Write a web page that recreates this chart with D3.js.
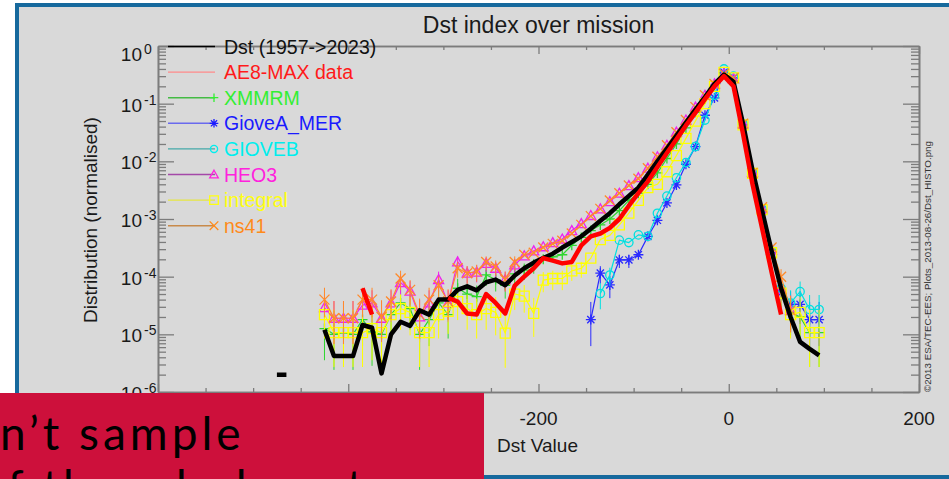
<!DOCTYPE html>
<html>
<head>
<meta charset="utf-8">
<script src="https://cdn.jsdelivr.net/npm/d3@7"></script>
<style>
  body { margin: 0; background: #fff; }
  svg { display: block; }
</style>
</head>
<body>
<svg id="chart" width="949" height="479"></svg>
<script>
// bin centres of the Dst histogram (nT)
var dstBins = [
  -475, -465, -455, -445, -435, -425, -415, -405, -395, -385,
  -375, -365, -355, -345, -335, -325, -315, -305, -295, -285,
  -275, -265, -255, -245, -235, -225, -215, -205, -195, -185,
  -175, -165, -155, -145, -135, -125, -115, -105, -95, -85,
  -75, -65, -55, -45, -35, -25, -15, -5, 5, 15,
  25, 35, 45, 55, 65, 75, 85, 95,
];

var dstAll = [
  2.0e-6, 2.0e-6, null, null, null, 1.2e-5, 4.2e-6, 4.2e-6, 4.2e-6, 1.45e-5,
  1.3e-5, 2.1e-6, 1.0e-5, 1.65e-5, 1.4e-5, 2.6e-5, 2.2e-5, 4.0e-5, 4.0e-5, 5.9e-5,
  6.8e-5, 5.8e-5, 8.0e-5, 8.9e-5, 7.1e-5, 1.05e-4, 1.4e-4, 1.75e-4, 2.1e-4, 2.5e-4,
  3.2e-4, 4.0e-4, 5.0e-4, 6.8e-4, 9.3e-4, 1.26e-3, 1.8e-3, 2.5e-3, 3.5e-3, 5.9e-3,
  1.0e-2, 1.66e-2, 2.8e-2, 4.7e-2, 7.9e-2, 0.13, 0.22, 0.32, 0.24, 0.045,
  7.0e-3, 1.4e-3, 2.8e-4, 6.3e-5, 2.0e-5, 7.4e-6, 5.6e-6, 4.3e-6,
];
var ae8Max = [
  null, null, null, null, null, null, null, null, null, 6.3e-5,
  2.2e-5, null, null, null, null, null, null, null, 4.3e-5, 3.7e-5,
  2.3e-5, 2.2e-5, 5.0e-5, 3.5e-5, 2.3e-5, 7.0e-5, 1.0e-4, 1.4e-4, 2.1e-4, 1.9e-4,
  1.7e-4, 1.8e-4, 3.5e-4, 5.0e-4, 5.6e-4, 7.0e-4, 1.0e-3, 1.7e-3, 2.8e-3, 4.5e-3,
  8.0e-3, 1.4e-2, 2.4e-2, 4.2e-2, 7.0e-2, 0.12, 0.2, 0.3, 0.2, 0.03,
  4.0e-3, 7.0e-4, 1.2e-4, 2.2e-5, null, null, null, null,
];
var xmmrm = [
  null, null, null, null, null, 1.26e-5, 1.0e-5, 1.07e-5, 1.0e-5, 1.8e-5,
  1.1e-5, 1.0e-5, 2.2e-5, 3.5e-5, 2.8e-5, 1.0e-5, 1.8e-5, 3.5e-5, 2.2e-5, 6.3e-5,
  5.0e-5, 4.5e-5, 1.07e-4, 8.9e-5, 7.1e-5, 1.12e-4, 1.3e-4, 1.6e-4, 2.0e-4, 2.2e-4,
  2.4e-4, 3.5e-4, 4.8e-4, 6.3e-4, 7.9e-4, 1.0e-3, 1.4e-3, 2.1e-3, 2.8e-3, 4.0e-3,
  6.3e-3, 1.12e-2, 2.0e-2, 3.8e-2, 7.1e-2, 0.12, 0.21, 0.33, 0.28, 0.043,
  6.3e-3, 1.45e-3, 2.6e-4, 5.2e-5, 2.4e-5, 2.0e-5, 1.07e-5, 1.07e-5,
];
var gioveAMer = [
  null, null, null, null, null, null, null, null, null, null,
  null, null, null, null, null, null, null, null, null, null,
  null, null, null, null, null, null, null, null, null, null,
  null, null, null, 1.8e-5, 1.15e-4, 7.2e-5, 1.95e-4, 1.95e-4, 2.4e-4, 5.0e-4,
  9.5e-4, 1.9e-3, 3.9e-3, 8.9e-3, 1.8e-2, 6.3e-2, 0.126, 0.35, 0.28, 0.043,
  6.2e-3, 1.45e-3, 2.6e-4, 5.2e-5, 3.3e-5, 3.3e-5, 1.8e-5, 1.8e-5,
];
var gioveB = [
  null, null, null, null, null, null, null, null, null, null,
  null, null, null, null, null, null, null, null, null, null,
  null, null, null, null, null, null, null, null, null, null,
  null, null, null, null, 5.1e-5, 1.07e-4, 4.3e-4, 3.9e-4, 5.3e-4, 5.0e-4,
  1.26e-3, 2.5e-3, 5.2e-3, 9.5e-3, 1.8e-2, 5.2e-2, 0.14, 0.40, 0.30, 0.045,
  6.3e-3, 1.5e-3, 2.8e-4, 6.3e-5, 3.5e-5, 5.5e-5, 2.7e-5, 2.7e-5,
];
var heo3 = [
  null, null, null, null, null, 2.9e-5, 1.9e-5, 1.9e-5, 1.9e-5, 3.2e-5,
  3.5e-5, 1.9e-5, 3.5e-5, 7.9e-5, 5.6e-5, 2.0e-5, 3.5e-5, 8.9e-5, 3.5e-5, 1.8e-4,
  1.15e-4, 1.2e-4, 1.7e-4, 1.4e-4, 8.9e-5, 1.6e-4, 2.3e-4, 2.8e-4, 3.3e-4, 3.9e-4,
  4.5e-4, 6.3e-4, 8.3e-4, 1.15e-3, 1.5e-3, 2.0e-3, 2.8e-3, 3.8e-3, 5.2e-3, 7.6e-3,
  1.2e-2, 1.9e-2, 3.2e-2, 5.2e-2, 8.7e-2, 0.14, 0.22, 0.33, 0.27, 0.045,
  6.5e-3, 1.5e-3, 2.9e-4, 6.0e-5, 2.6e-5, null, null, null,
];
var integral = [
  null, null, null, null, null, 2.2e-5, 1.07e-5, 1.07e-5, 1.07e-5, 1.07e-5,
  1.26e-5, 1.07e-5, 2.2e-5, 2.8e-5, 2.4e-5, 1.07e-5, 1.07e-5, 2.2e-5, 2.5e-5, 3.7e-5,
  2.8e-5, 2.2e-5, 2.8e-5, 2.4e-5, 1.05e-5, 5.0e-5, 4.6e-5, 2.3e-5, 8.7e-5, 9.3e-5,
  9.3e-5, 1.26e-4, 1.4e-4, 2.1e-4, 4.4e-4, 5.2e-4, 7.9e-4, 1.26e-3, 2.1e-3, 3.5e-3,
  4.0e-3, 6.6e-3, 1.26e-2, 2.5e-2, 5.0e-2, 0.1, 0.2, 0.35, 0.28, 0.043,
  6.2e-3, 1.45e-3, 2.6e-4, 5.2e-5, 2.2e-5, 2.4e-5, 1.07e-5, 1.07e-5,
];
var ns41 = [
  null, null, null, null, null, 4.0e-5, 1.9e-5, 1.9e-5, 1.9e-5, 4.0e-5,
  4.0e-5, 2.0e-5, 3.7e-5, 9.3e-5, 5.9e-5, 2.2e-5, 4.0e-5, 7.1e-5, 3.7e-5, 1.4e-4,
  1.15e-4, 1.23e-4, 1.8e-4, 1.5e-4, 8.9e-5, 1.8e-4, 2.4e-4, 2.6e-4, 3.2e-4, 3.7e-4,
  4.2e-4, 5.6e-4, 7.9e-4, 1.12e-3, 1.5e-3, 2.1e-3, 2.8e-3, 3.8e-3, 5.0e-3, 7.6e-3,
  1.2e-2, 1.9e-2, 3.2e-2, 5.2e-2, 8.7e-2, 0.14, 0.22, 0.33, 0.28, 0.045,
  6.3e-3, 1.6e-3, 3.2e-4, 1.0e-4, 2.6e-5, null, null, null,
];

var seriesNames = ["Dst (1957->2023)", "AE8-MAX data", "XMMRM", "GioveA_MER", "GIOVEB", "HEO3", "integral", "ns41"];
var seriesValues = [dstAll, ae8Max, xmmrm, gioveAMer, gioveB, heo3, integral, ns41];

var xTickValues = [-600, -400, -200, 0, 200];
var xTickLabels = ["-600", "-400", "-200", "0", "200"];
var xMinorValues = [-550, -500, -450, -350, -300, -250, -150, -100, -50, 50, 100, 150];
var yTickValues = [1e-6, 1e-5, 1e-4, 1e-3, 1e-2, 1e-1, 1];
var yTickExponents = ["-6", "-5", "-4", "-3", "-2", "-1", "0"];

// styles (kept apart from the data)
var lineColors = ["#000000", "#ff0000", "#2ed62e", "#2a2aff", "#00e0e0", "#ee22ee", "#ffff00", "#ff8a2a"];
var textColors = ["#111111", "#ff1a1a", "#33ee33", "#1a1aff", "#00eeee", "#ff22dd", "#ffff10", "#ff8a1a"];
var legendLineColors = ["#000000", "#ff8a8a", "#44bb44", "#6a6aee", "#44a8a8", "#a448a8", "#e6e640", "#c88a4a"];
var symbols = [null, null, "plus", "star", "circle", "triangle", "square", "cross"];
var drawOrder = [2, 3, 4, 5, 6, 7, 0, 1];

var svg = d3.select("#chart");
var font = "'Liberation Sans', Arial, Helvetica, sans-serif";
var axisColor = "#7c7c7c";

svg.append("rect").attr("width", 949).attr("height", 479).attr("fill", "#ffffff");
svg.append("rect").attr("x", 15).attr("y", 3).attr("width", 934).attr("height", 476).attr("fill", "#16699d");
svg.append("rect").attr("x", 19).attr("y", 7).attr("width", 930).attr("height", 468).attr("fill", "#d9d9d9");

var x = d3.scaleLinear().domain([-600, 200]).range([158, 919]);
var y = d3.scaleLog().domain([1e-6, 1]).range([392, 46]);

var yMinor = [];
yTickValues.slice(0, -1).forEach(function (d) {
  for (var k = 2; k < 10; k++) yMinor.push(d * k);
});

function styleAxis(g) {
  g.selectAll("path.domain").attr("stroke", axisColor).attr("stroke-width", 1.6);
  g.selectAll(".tick line").attr("stroke", axisColor).attr("stroke-width", 1.3);
  g.selectAll(".tick text").remove();
}

// x axes (bottom + top), ticks inward
[[d3.axisBottom, 392], [d3.axisTop, 46]].forEach(function (a) {
  svg.append("g").attr("transform", "translate(0," + a[1] + ")")
    .call(a[0](x).tickValues(xMinorValues).tickSize(-4).tickSizeOuter(0).tickFormat(""))
    .call(styleAxis);
  svg.append("g").attr("transform", "translate(0," + a[1] + ")")
    .call(a[0](x).tickValues(xTickValues).tickSize(-8).tickSizeOuter(0).tickFormat(""))
    .call(styleAxis);
});

// y axes (left + right), ticks inward
[[d3.axisLeft, 158], [d3.axisRight, 919]].forEach(function (a) {
  svg.append("g").attr("transform", "translate(" + a[1] + ",0)")
    .call(a[0](y).tickValues(yMinor).tickSize(-8).tickSizeOuter(0).tickFormat(""))
    .call(styleAxis);
  svg.append("g").attr("transform", "translate(" + a[1] + ",0)")
    .call(a[0](y).tickValues(yTickValues).tickSize(-16).tickSizeOuter(0).tickFormat(""))
    .call(styleAxis);
});

// tick labels
svg.append("g").selectAll("text").data(xTickValues).enter().append("text")
  .attr("x", function (d) { return x(d); })
  .attr("y", 425)
  .attr("text-anchor", "middle")
  .style("font-family", font).style("font-size", "19px").attr("fill", "#1a1a1a")
  .text(function (d, i) { return xTickLabels[i]; });

var yl = svg.append("g").selectAll("g").data(yTickValues).enter().append("g");
yl.append("text")
  .attr("x", 142).attr("y", function (d) { return Math.max(y(d) + 8, 61); })
  .attr("text-anchor", "end")
  .style("font-family", font).style("font-size", "19px").attr("fill", "#1a1a1a")
  .text("10");
yl.append("text")
  .attr("x", 144).attr("y", function (d) { return Math.max(y(d) + 8, 61) - 7; })
  .style("font-family", font).style("font-size", "14px").attr("fill", "#1a1a1a")
  .text(function (d, i) { return yTickExponents[i]; });

// titles
svg.append("text").attr("x", 538.5).attr("y", 33).attr("text-anchor", "middle")
  .style("font-family", font).style("font-size", "23px").attr("fill", "#1a1a1a")
  .text("Dst index over mission");
svg.append("text").attr("x", 497).attr("y", 452)
  .style("font-family", font).style("font-size", "19px").attr("fill", "#1a1a1a")
  .text("Dst Value");
svg.append("text").attr("transform", "translate(97,220) rotate(-90)").attr("text-anchor", "middle")
  .style("font-family", font).style("font-size", "19px").attr("fill", "#1a1a1a")
  .text("Distribution (normalised)");
svg.append("text").attr("transform", "translate(931,392) rotate(-90)")
  .style("font-family", font).style("font-size", "9.8px").attr("fill", "#333")
  .text("\u00a92013 ESA/TEC-EES; Plots_2013-08-26/Dst_HISTO.png");

function symbolPath(type, s) {
  var c = s * 0.72;
  switch (type) {
    case "plus": return "M" + -s + ",0H" + s + "M0," + -s + "V" + s;
    case "cross": return "M" + -s + "," + -s + "L" + s + "," + s + "M" + -s + "," + s + "L" + s + "," + -s;
    case "star": return "M" + -s + ",0H" + s + "M0," + -s + "V" + s +
      "M" + -c + "," + -c + "L" + c + "," + c + "M" + -c + "," + c + "L" + c + "," + -c;
    case "square": return "M" + -s + "," + -s + "H" + s + "V" + s + "H" + -s + "Z";
    case "triangle": return "M0," + -s + "L" + s + "," + s * 0.8 + "H" + -s + "Z";
    case "circle": return d3.symbol(d3.symbolCircle, Math.PI * s * s * 0.7)();
  }
  return "";
}

var plot = svg.append("g");
var line = d3.line()
  .defined(function (d) { return d.v !== null; })
  .x(function (d) { return x(d.x); })
  .y(function (d) { return y(d.v); });

function errHalf(v) {
  return Math.min(0.5, 0.13 * Math.sqrt(1e-4 / v));
}

drawOrder.forEach(function (si) {
  var pts = dstBins.map(function (b, i) { return { x: b, v: seriesValues[si][i] }; });
  var thick = si < 2;
  var g = plot.append("g");
  g.append("path").datum(pts)
    .attr("d", line)
    .attr("fill", "none")
    .attr("stroke", lineColors[si])
    .attr("stroke-width", thick ? 4.5 : 1.2)
    .attr("stroke-linejoin", "round");
  if (thick) return;
  var good = pts.filter(function (d) { return d.v !== null; });
  // counting error bars, longer where the bin holds few events
  g.selectAll("line.err").data(good.filter(function (d) { return d.v < 2e-4; }))
    .enter().append("line")
    .attr("x1", function (d) { return x(d.x); })
    .attr("x2", function (d) { return x(d.x); })
    .attr("y1", function (d) { return y(d.v * Math.pow(10, errHalf(d.v))); })
    .attr("y2", function (d) { return y(Math.max(1e-6, d.v / Math.pow(10, 1.5 * errHalf(d.v)))); })
    .attr("stroke", lineColors[si]).attr("stroke-width", 1);
  g.selectAll("path.sym").data(good).enter().append("path")
    .attr("transform", function (d) { return "translate(" + x(d.x) + "," + y(d.v) + ")"; })
    .attr("d", symbolPath(symbols[si], 5))
    .attr("fill", "none")
    .attr("stroke", lineColors[si])
    .attr("stroke-width", 1.3);
});

// legend
var leg = svg.append("g").selectAll("g").data(seriesNames).enter().append("g")
  .attr("transform", function (d, i) { return "translate(0," + (46.5 + 25.6 * i) + ")"; });
leg.append("line").attr("x1", 168).attr("x2", 215)
  .attr("stroke", function (d, i) { return legendLineColors[i]; })
  .attr("stroke-width", 1.4);
leg.append("path")
  .attr("transform", "translate(214,0)")
  .attr("d", function (d, i) { return symbolPath(symbols[i], 4.3); })
  .attr("fill", "none")
  .attr("stroke", function (d, i) { return textColors[i]; })
  .attr("stroke-width", 1.3);
leg.append("text").attr("x", 224).attr("y", 7)
  .style("font-family", font).style("font-size", "19.5px")
  .attr("fill", function (d, i) { return textColors[i]; })
  .text(function (d) { return d; });

// slide overlay box in the lower-left corner, its text clipped to the box
svg.append("clipPath").attr("id", "boxClip")
  .append("rect").attr("x", 0).attr("y", 393).attr("width", 484).attr("height", 86);
var box = svg.append("g").attr("clip-path", "url(#boxClip)");
box.append("rect").attr("x", 0).attr("y", 393).attr("width", 484).attr("height", 86).attr("fill", "#cd103b");
box.append("text").attr("x", 0).attr("y", 450)
  .style("font-family", "Lato, 'Open Sans', sans-serif").style("font-size", "46px")
  .style("letter-spacing", "4px").attr("fill", "#000")
  .text("n\u2019t sample");
box.append("text").attr("x", -22).attr("y", 503)
  .style("font-family", "Lato, 'Open Sans', sans-serif").style("font-size", "46px")
  .style("letter-spacing", "4px").attr("fill", "#000")
  .text("of the whole set");
</script>
</body>
</html>
